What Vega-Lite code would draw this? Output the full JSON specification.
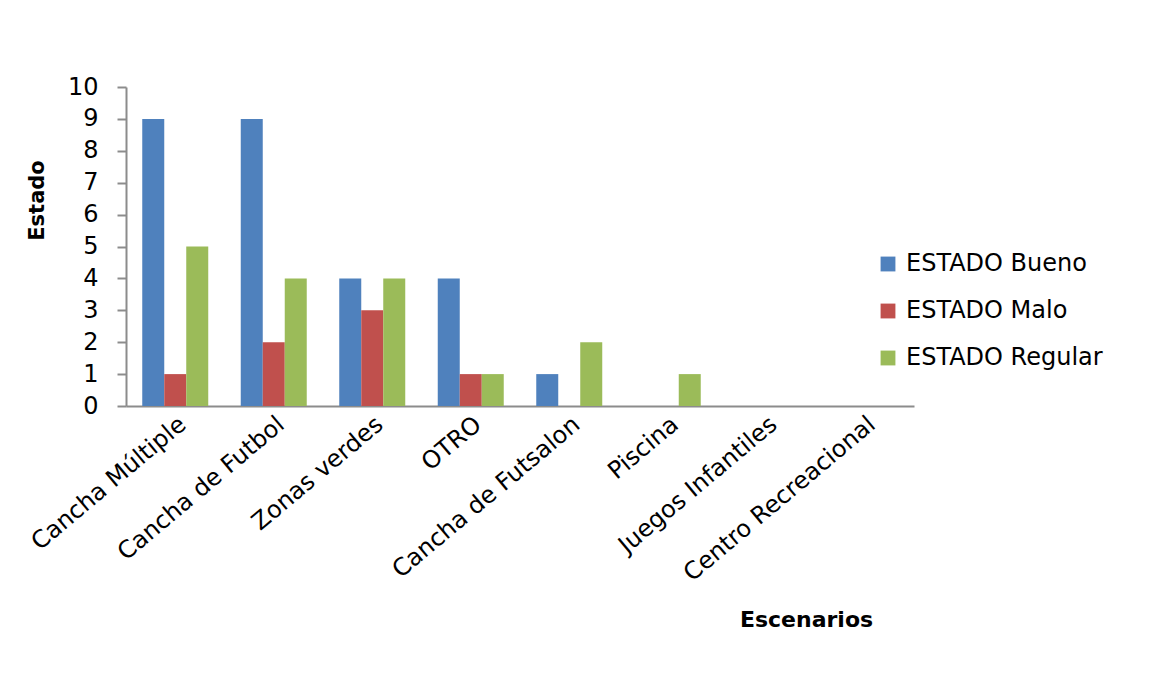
{
  "$schema": "https://vega.github.io/schema/vega-lite/v6.json",
  "width": 788,
  "height": 319,
  "autosize": "none",
  "padding": {"left": 126, "top": 87, "right": 240, "bottom": 294},
  "background": "white",
  "config": {
    "view": {"stroke": null},
    "font": "DejaVu Sans"
  },
  "data": {
    "values": [
      {"Escenario": "Cancha Múltiple", "Estado": "ESTADO Bueno", "Valor": 9},
      {"Escenario": "Cancha Múltiple", "Estado": "ESTADO Malo", "Valor": 1},
      {"Escenario": "Cancha Múltiple", "Estado": "ESTADO Regular", "Valor": 5},
      {"Escenario": "Cancha de Futbol", "Estado": "ESTADO Bueno", "Valor": 9},
      {"Escenario": "Cancha de Futbol", "Estado": "ESTADO Malo", "Valor": 2},
      {"Escenario": "Cancha de Futbol", "Estado": "ESTADO Regular", "Valor": 4},
      {"Escenario": "Zonas verdes", "Estado": "ESTADO Bueno", "Valor": 4},
      {"Escenario": "Zonas verdes", "Estado": "ESTADO Malo", "Valor": 3},
      {"Escenario": "Zonas verdes", "Estado": "ESTADO Regular", "Valor": 4},
      {"Escenario": "OTRO", "Estado": "ESTADO Bueno", "Valor": 4},
      {"Escenario": "OTRO", "Estado": "ESTADO Malo", "Valor": 1},
      {"Escenario": "OTRO", "Estado": "ESTADO Regular", "Valor": 1},
      {"Escenario": "Cancha de Futsalon", "Estado": "ESTADO Bueno", "Valor": 1},
      {"Escenario": "Cancha de Futsalon", "Estado": "ESTADO Malo", "Valor": 0},
      {"Escenario": "Cancha de Futsalon", "Estado": "ESTADO Regular", "Valor": 2},
      {"Escenario": "Piscina", "Estado": "ESTADO Bueno", "Valor": 0},
      {"Escenario": "Piscina", "Estado": "ESTADO Malo", "Valor": 0},
      {"Escenario": "Piscina", "Estado": "ESTADO Regular", "Valor": 1},
      {"Escenario": "Juegos Infantiles", "Estado": "ESTADO Bueno", "Valor": 0},
      {"Escenario": "Juegos Infantiles", "Estado": "ESTADO Malo", "Valor": 0},
      {"Escenario": "Juegos Infantiles", "Estado": "ESTADO Regular", "Valor": 0},
      {"Escenario": "Centro Recreacional", "Estado": "ESTADO Bueno", "Valor": 0},
      {"Escenario": "Centro Recreacional", "Estado": "ESTADO Malo", "Valor": 0},
      {"Escenario": "Centro Recreacional", "Estado": "ESTADO Regular", "Valor": 0}
    ]
  },
  "mark": {"type": "bar"},
  "encoding": {
    "x": {
      "field": "Escenario",
      "type": "nominal",
      "sort": null,
      "scale": {"paddingInner": 0.33, "paddingOuter": 0.165},
      "axis": {
        "title": "Escenarios",
        "titleFont": "DejaVu Sans",
        "titleFontSize": 22,
        "titleFontWeight": "bold",
        "titleColor": "#000000",
        "titleX": 680,
        "titleY": 220,
        "titleAlign": "center",
        "titleBaseline": "alphabetic",
        "labelAngle": -40,
        "labelAlign": "right",
        "labelBaseline": "top",
        "labelPadding": 6,
        "labelFontSize": 24,
        "labelColor": "#000000",
        "labelOverlap": false,
        "labelLimit": 0,
        "ticks": false,
        "domainColor": "#8c8c8c",
        "domainWidth": 2
      }
    },
    "xOffset": {"field": "Estado", "type": "nominal", "scale": {"paddingInner": 0, "paddingOuter": 0}},
    "y": {
      "field": "Valor",
      "type": "quantitative",
      "scale": {"domain": [0, 10], "nice": false},
      "axis": {
        "title": "Estado",
        "titleFont": "DejaVu Sans",
        "titleFontSize": 21,
        "titleFontWeight": "bold",
        "titleColor": "#000000",
        "titleAngle": -90,
        "titleX": -83,
        "titleY": 113,
        "titleAlign": "center",
        "titleBaseline": "alphabetic",
        "values": [0, 1, 2, 3, 4, 5, 6, 7, 8, 9, 10],
        "grid": false,
        "tickSize": 9,
        "tickColor": "#8c8c8c",
        "tickWidth": 2,
        "domainColor": "#8c8c8c",
        "domainWidth": 2,
        "labelFontSize": 24,
        "labelColor": "#000000",
        "labelPadding": 19
      }
    },
    "color": {
      "field": "Estado",
      "type": "nominal",
      "scale": {
        "domain": ["ESTADO Bueno", "ESTADO Malo", "ESTADO Regular"],
        "range": ["#4F81BD", "#C0504D", "#9BBB59"]
      },
      "legend": {
        "title": null,
        "orient": "none",
        "legendX": 750,
        "legendY": 165,
        "symbolType": "square",
        "symbolSize": 220,
        "symbolStrokeWidth": 0,
        "labelFontSize": 24,
        "labelColor": "#000000",
        "labelOffset": 6,
        "rowPadding": 23,
        "labelLimit": 0
      }
    }
  }
}
